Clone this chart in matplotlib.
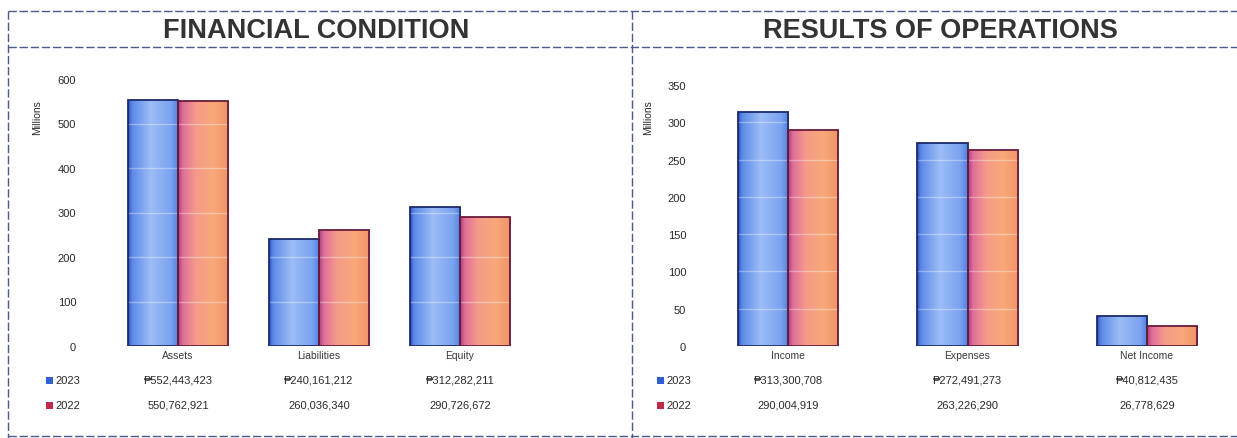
import matplotlib
matplotlib.use("Agg")
import matplotlib.pyplot as plt
import numpy as np
from matplotlib.colors import LinearSegmentedColormap
from matplotlib.lines import Line2D

# ---------------- data ----------------
fin_categories = ["Assets", "Liabilities", "Equity"]
fin_2023 = [552443423, 240161212, 312282211]
fin_2022 = [550762921, 260036340, 290726672]

ops_categories = ["Income", "Expenses", "Net Income"]
ops_2023 = [313300708, 272491273, 40812435]
ops_2022 = [290004919, 263226290, 26778629]

series_labels = ["2023", "2022"]
fin_yticks = [0, 100, 200, 300, 400, 500, 600]
ops_yticks = [0, 50, 100, 150, 200, 250, 300, 350]

W, H = 1237, 439
fig = plt.figure(figsize=(W / 100, H / 100), dpi=100)
fig.patch.set_facecolor("white")

FONT = ["Liberation Sans Narrow", "Liberation Sans", "DejaVu Sans"]
TXT = "#2a2a2a"

blue_cmap = LinearSegmentedColormap.from_list(
    "b", [(0, "#2f4fb8"), (0.08, "#5d8ae8"), (0.45, "#9cbdf6"), (0.85, "#7aa2f0"), (1, "#4f7ee0")])
orange_cmap = LinearSegmentedColormap.from_list(
    "o", [(0, "#a8407a"), (0.1, "#e0709a"), (0.35, "#f59a8a"), (0.7, "#f8a878"), (1, "#f09468")])


def px_axes(left, top, right, bottom):
    return fig.add_axes([left / W, 1 - bottom / H, (right - left) / W, (bottom - top) / H])


def gradient_bars(ax, bars, cmap, edge):
    grad = np.linspace(0, 1, 256).reshape(1, -1)
    for r in bars:
        x0, w, h = r.get_x(), r.get_width(), r.get_height()
        im = ax.imshow(grad, cmap=cmap, extent=[x0, x0 + w, 0, h], aspect="auto",
                       zorder=2, interpolation="bilinear")
        im.set_clip_path(r)
        r.set_edgecolor(edge)


def panel(ax, cats, v23, v22, yticks, ymax, xlim, bw, ylabel_x, legend_x):
    idx = np.arange(len(cats))
    b1 = ax.bar(idx - bw / 2, np.array(v23) / 1e6, bw, facecolor="none",
                edgecolor="#1b2a6e", linewidth=1.3, zorder=3)
    b2 = ax.bar(idx + bw / 2, np.array(v22) / 1e6, bw, facecolor="none",
                edgecolor="#6a1a3a", linewidth=1.3, zorder=3)
    gradient_bars(ax, b1, blue_cmap, "#1b2a6e")
    gradient_bars(ax, b2, orange_cmap, "#6a1a3a")
    ax.set_xlim(*xlim)
    ax.set_ylim(0, ymax)
    ax.set_yticks(yticks)
    ax.set_yticklabels([str(t) for t in yticks], fontsize=8, color=TXT, family=FONT)
    ax.tick_params(axis="y", length=0, pad=10)
    ax.set_xticks([])
    for s in ax.spines.values():
        s.set_visible(False)
    ax.set_axisbelow(False)
    ax.yaxis.grid(True, color="white", alpha=0.35, linewidth=1, zorder=4)
    ax.patch.set_alpha(0)
    fig.text(ylabel_x / W, 1 - 118 / H, "Millions", rotation=90, ha="center", va="center",
             fontsize=7.5, color=TXT, family=FONT)
    fig.canvas.draw()
    for i, c in enumerate(cats):
        xd = ax.transData.transform((i, 0))[0]
        fig.text(xd / fig.bbox.width, 1 - 356 / H, c, ha="center", va="center",
                 fontsize=7.5, color="#3a3a3a", family=FONT)
    for row, (vals, lab, col, ypx) in enumerate(
            [(v23, series_labels[0], "#2f5fd0", 381), (v22, series_labels[1], "#c02a4a", 406)]):
        for i, v in enumerate(vals):
            s = f"{v:,}"
            if row == 0:
                s = "\u20b1" + s
            xd = ax.transData.transform((i, 0))[0]
            fig.text(xd / fig.bbox.width, 1 - ypx / H, s, ha="center", va="center",
                     fontsize=8, color=TXT, family=FONT)
        fig.patches.append(plt.Rectangle((legend_x / W, 1 - (ypx + 3.5) / H), 7 / W, 7 / H,
                                         transform=fig.transFigure, facecolor=col,
                                         edgecolor="none", figure=fig))
        fig.text((legend_x + 9) / W, 1 - ypx / H, lab, ha="left", va="center",
                 fontsize=8, color=TXT, family=FONT)


ax1 = px_axes(90, 80, 625, 347)
ax2 = px_axes(700, 86, 1237, 347)
panel(ax1, fin_categories, fin_2023, fin_2022, fin_yticks, 600,
      (-(178 - 90) / 141, (625 - 178) / 141), 0.355, 37, 46)
panel(ax2, ops_categories, ops_2023, ops_2022, ops_yticks, 350,
      (-(788 - 700) / 179.5, (1237 - 788) / 179.5), 0.28, 648, 657)

fig.text(316 / W, 1 - 31 / H, "FINANCIAL CONDITION", ha="center", va="center",
         fontsize=19.5, fontweight="bold", color="#333333", family=["Liberation Sans", "DejaVu Sans"])
fig.text(940 / W, 1 - 31 / H, "RESULTS OF OPERATIONS", ha="center", va="center",
         fontsize=19.5, fontweight="bold", color="#333333", family=["Liberation Sans", "DejaVu Sans"])

lc = "#4a5a8a"
def fline(x0, y0, x1, y1):
    fig.add_artist(Line2D([x0 / W, x1 / W], [1 - y0 / H, 1 - y1 / H], transform=fig.transFigure,
                          color=lc, linewidth=1, linestyle=(0, (6, 2))))

fline(8, 12, 1237, 12)
fline(8, 48, 1237, 48)
fline(8, 12, 8, 439)
fline(632, 12, 632, 439)
fline(8, 437, 1237, 437)

fig.savefig("out.png", dpi=100, facecolor="white")
